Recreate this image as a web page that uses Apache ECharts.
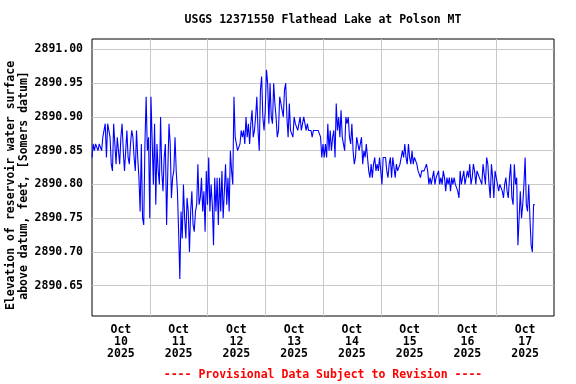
<!DOCTYPE html>
<html>
<head>
<meta charset="utf-8">
<script src="https://cdn.jsdelivr.net/npm/echarts@6/dist/echarts.min.js"></script>
<style>html,body{margin:0;padding:0;background:#fff;}#c{width:576px;height:384px;}</style>
</head>
<body>
<div id="c"></div>
<script>
// Series start: Oct 10 2025 00:00, one reading every 30 minutes (hours from start on x)
const stepHours = 0.5;
// Elevation readings in hundredths of a foot above 2890 ft
const elevHundredths = [
84,86,85,86,86,85,86,86,85,87,
88,89,84,89,88,87,83,82,89,89,
83,87,85,83,87,89,85,82,82,88,
84,83,86,88,87,84,82,88,84,81,
76,86,75,74,86,93,85,87,75,93,
93,80,89,77,86,82,80,90,82,79,
84,86,74,82,89,86,78,81,82,87,
82,79,73,66,76,72,80,75,72,78,
76,70,76,79,74,73,76,77,83,77,
78,81,76,79,73,82,77,84,76,80,
77,71,81,76,81,74,81,76,82,75,
79,83,77,81,76,85,82,80,93,87,
86,85,85,86,88,87,88,86,90,87,
89,86,89,91,87,88,90,93,88,85,
94,96,90,88,91,97,95,89,95,90,
89,95,92,90,87,88,93,92,91,90,
94,95,90,87,92,88,88,87,90,89,
89,88,89,90,88,89,90,89,88,89,
88,88,88,87,88,88,88,88,88,88,
87,84,86,84,86,84,89,85,88,85,
87,88,84,92,88,90,87,91,87,86,
85,90,89,90,87,86,89,85,83,84,
87,86,85,85,87,83,85,84,86,84,
82,81,83,81,83,84,82,83,82,84,
84,80,84,84,84,82,81,83,84,81,
84,84,81,83,82,82,83,83,85,84,
86,84,83,86,84,83,85,83,84,84,
83,82,82,81,82,82,82,82,83,82,
80,81,80,81,82,80,81,81,82,80,
81,80,82,81,79,81,80,81,79,81,
80,81,80,80,79,78,82,80,81,82,
80,81,82,81,83,80,81,83,82,80,
82,82,81,81,80,83,83,80,84,83,
80,78,83,81,78,82,81,80,79,80,
80,79,78,80,81,79,78,81,83,78,
77,83,80,81,71,75,79,75,77,80,
84,77,76,80,75,71,70,77,77
];
const yTicks = [2890.65, 2890.70, 2890.75, 2890.80, 2890.85, 2890.90, 2890.95, 2891.00];
const dayBoundaries = [24, 48, 72, 96, 120, 144, 168];
const dayCenters = [12, 36, 60, 84, 108, 132, 156, 180];
const xTickLabels = ['Oct\n10\n2025','Oct\n11\n2025','Oct\n12\n2025','Oct\n13\n2025','Oct\n14\n2025','Oct\n15\n2025','Oct\n16\n2025','Oct\n17\n2025'];
const titleText = 'USGS 12371550 Flathead Lake at Polson MT';
const yNameLines = ['Elevation of reservoir water surface', 'above datum, feet, [Somers datum]'];
const footerText = '---- Provisional Data Subject to Revision ----';

const seriesData = elevHundredths.map((v, i) => [i * stepHours, +(2890 + v / 100).toFixed(2)]);
const FONT = '"DejaVu Sans Mono", "Liberation Mono", monospace';

const chart = echarts.init(document.getElementById('c'), null, {renderer: 'canvas'});
chart.setOption({
  animation: false,
  backgroundColor: '#ffffff',
  grid: {left: 92, top: 39, right: 22, bottom: 68, show: true, borderColor: '#000', borderWidth: 1, backgroundColor: 'transparent'},
  xAxis: [{
    type: 'value', min: 0, max: 192,
    axisLine: {show: false},
    axisTick: {show: false, customValues: dayBoundaries},
    splitLine: {show: true, lineStyle: {color: '#c8c8c8', width: 1}},
    axisLabel: {
      show: true, customValues: dayCenters, margin: 8,
      fontFamily: FONT, fontWeight: 'bold', fontSize: 11.5, lineHeight: 12, color: '#000',
      formatter: (v) => { const k = dayCenters.indexOf(Math.round(v)); return k >= 0 ? xTickLabels[k] : ''; }
    }
  }],
  yAxis: [{
    type: 'value', min: 2890.605, max: 2891.0155,
    axisLine: {show: false},
    axisTick: {show: false, customValues: yTicks},
    splitLine: {show: true, lineStyle: {color: '#c8c8c8', width: 1}},
    axisLabel: {
      show: true, customValues: yTicks, margin: 9, padding: [3, 0, 0, 0],
      fontFamily: FONT, fontWeight: 'bold', fontSize: 11.5, color: '#000',
      formatter: (v) => v.toFixed(2)
    }
  }],
  series: [{
    type: 'line', data: seriesData, showSymbol: false, symbol: 'none',
    lineStyle: {color: '#0000ff', width: 1.1}, z: 3
  }],
  graphic: [
    {type: 'text', x: 323, y: 20, style: {text: titleText, fill: '#000', font: 'bold 11.5px ' + FONT, align: 'center', verticalAlign: 'middle'}},
    {type: 'text', x: 11, y: 185.5, rotation: Math.PI / 2, style: {text: yNameLines[0], fill: '#000', font: 'bold 11.5px ' + FONT, align: 'center', verticalAlign: 'middle'}},
    {type: 'text', x: 24, y: 185.5, rotation: Math.PI / 2, style: {text: yNameLines[1], fill: '#000', font: 'bold 11.5px ' + FONT, align: 'center', verticalAlign: 'middle'}},
    {type: 'text', x: 323, y: 375, style: {text: footerText, fill: '#ff0000', font: 'bold 11.5px ' + FONT, align: 'center', verticalAlign: 'middle'}}
  ]
});
</script>
</body>
</html>
